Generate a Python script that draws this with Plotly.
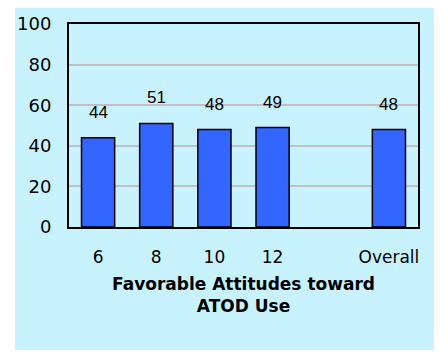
import plotly.graph_objects as go

categories = ["6", "8", "10", "12", " ", "Overall"]
values = [44, 51, 48, 49, None, 48]
y_ticks = [0, 20, 40, 60, 80, 100]

FONT = "DejaVu Sans, sans-serif"

fig = go.Figure()
fig.add_trace(go.Bar(
    x=list(range(len(categories))), y=values,
    marker=dict(color="#3366FF", line=dict(color="#000000", width=1.5)),
))

for i, v in enumerate(values):
    if v is None:
        continue
    fig.add_annotation(x=i, y=v, text=str(v), showarrow=False,
                       yanchor="bottom", yshift=14,
                       font=dict(size=17, family="Liberation Sans, Arial", color="#000000"))

fig.add_shape(type="rect", xref="paper", yref="paper",
              x0=-54/349, x1=373/349, y0=-123/203, y1=222/203,
              fillcolor="#C9F2FF", line=dict(width=0), layer="below")

fig.update_layout(
    width=434, height=344,
    margin=dict(l=61, r=24, t=16, b=125),
    paper_bgcolor="#FFFFFF", plot_bgcolor="#FFFFFF",
    bargap=0.43, showlegend=False,
    font=dict(family=FONT, size=18, color="#000000"),
    xaxis=dict(
        range=[-0.5, len(categories) - 0.5],
        tickvals=list(range(len(categories))), ticktext=categories,
        tickangle=0, showgrid=False, automargin=False, zeroline=False,
        showline=True, linecolor="#000000", linewidth=2, mirror=True,
        ticks="outside", ticklen=14, tickcolor="rgba(0,0,0,0)",
        tickfont=dict(size=17),
        title=dict(text="<b>Favorable Attitudes toward<br>ATOD Use</b>",
                   font=dict(size=17), standoff=12),
    ),
    yaxis=dict(
        range=[0, 100], tickvals=y_ticks, automargin=False,
        showgrid=True, gridcolor="#C0C0C0", gridwidth=1.5,
        showline=True, linecolor="#000000", linewidth=2, mirror=True,
        ticks="outside", ticklen=12, tickcolor="rgba(0,0,0,0)",
        tickfont=dict(size=18), zeroline=False,
    ),
)

fig.write_html("out.html")
